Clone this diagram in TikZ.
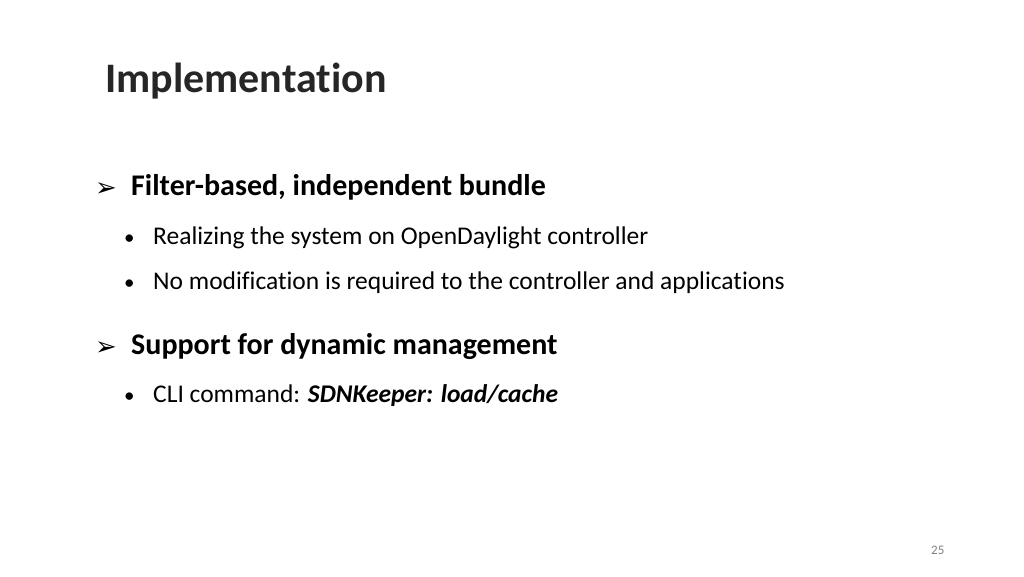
\documentclass[tikz,border=0pt]{standalone}
\usepackage{fontspec}
\setmainfont[RawFeature={-liga}]{Carlito}
\newfontfamily\djv{DejaVu Sans}
\begin{document}
\begin{tikzpicture}[x=1pt,y=-1pt,
  lvlone/.style={anchor=base west,inner sep=0pt,font=\fontsize{30}{36}\selectfont\bfseries},
  lvltwo/.style={anchor=base west,inner sep=0pt,font=\fontsize{25.5}{30}\selectfont},
  arr/.style={anchor=base west,inner sep=0pt,font=\djv\bfseries\fontsize{26}{30}\selectfont},
  dot/.style={anchor=base west,inner sep=0pt,font=\fontsize{21}{25}\selectfont}]
\useasboundingbox[fill=white] (0,0) rectangle (1024,576);
\node[anchor=base west,inner sep=0pt,font=\fontsize{42}{48}\selectfont\bfseries,text=black!85] (title) at (105,92) {Implementation};
\node[arr] (a1) at (95,196) {➢};
\node[lvlone] (h1) at (131,195) {Filter-based, independent bundle};
\node[dot] (d1) at (124,244) {•};
\node[lvltwo] (t1) at (153,244) {Realizing the system on OpenDaylight controller};
\node[dot] (d2) at (124,289) {•};
\node[lvltwo] (t2) at (153,289) {No modification is required to the controller and applications};
\node[arr] (a2) at (95,355) {➢};
\node[lvlone] (h2) at (131,354) {Support for dynamic management};
\node[dot] (d3) at (124,402) {•};
\node[lvltwo] (t3) at (153,402) {CLI command: \textbf{\itshape SDNKeeper: load/cache}};
\node[anchor=base west,inner sep=0pt,font=\fontsize{13}{15}\selectfont,text=black!50] (pg) at (931,554) {25};
\end{tikzpicture}
\end{document}
